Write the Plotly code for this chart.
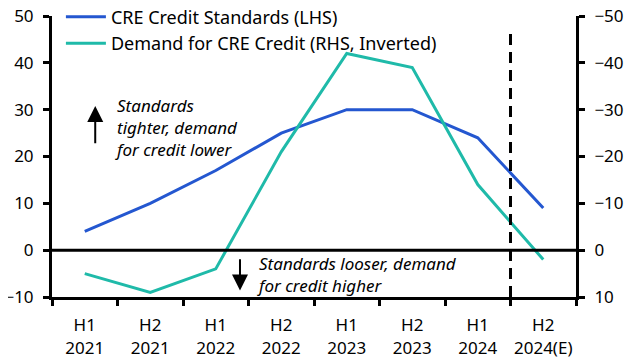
import plotly.graph_objects as go

periods = ["H1<br>2021", "H2<br>2021", "H1<br>2022", "H2<br>2022",
           "H1<br>2023", "H2<br>2023", "H1<br>2024", "H2<br>2024(E)"]
standards = [4, 10, 17, 25, 30, 30, 24, 9]          # LHS
demand = [5, 9, 4, -21, -42, -39, -14, 2]            # RHS, inverted

BLUE = "#2457d0"
TEAL = "#1fbaa9"
FONT = "Noto Sans"

fig = go.Figure()
fig.add_trace(go.Scatter(x=periods, y=standards, mode="lines", name="CRE Credit Standards (LHS)",
                         line=dict(color=BLUE, width=3), yaxis="y"))
fig.add_trace(go.Scatter(x=periods, y=demand, mode="lines", name="Demand for CRE Credit (RHS, Inverted)",
                         line=dict(color=TEAL, width=3), yaxis="y2"))

axis_common = dict(showgrid=False, showline=True, linecolor="black", linewidth=3,
                   ticks="outside", ticklen=6, tickwidth=3, tickcolor="black",
                   zeroline=False, automargin=False, ticklabeloverflow="allow")

# page has an 8px body margin, so the figure is 8px smaller than the window
fig.update_layout(
    width=624, height=356,
    margin=dict(l=44, r=56, t=8, b=67, autoexpand=False),
    plot_bgcolor="white", paper_bgcolor="white",
    font=dict(family=FONT, size=17, color="black"),
    showlegend=True,
    legend=dict(x=0.017, y=0.95, xanchor="left", yanchor="middle", bgcolor="rgba(0,0,0,0)",
                font=dict(size=18), tracegroupgap=0, itemwidth=40),
    xaxis=dict(type="category", range=[-0.5, 7.5], tickson="boundaries", tickangle=0,
               tickfont=dict(size=17), ticklabelstandoff=11, **axis_common),
    yaxis=dict(range=[-10, 50], dtick=10, tickfont=dict(size=17), ticklabelstandoff=6, **axis_common),
    yaxis2=dict(range=[10, -50], dtick=10, overlaying="y", side="right",
                tickfont=dict(size=17), ticklabelstandoff=6, **axis_common),
)

# zero line
fig.add_shape(type="line", xref="paper", x0=0, x1=1, yref="y", y0=0, y1=0,
              line=dict(color="black", width=3))
# dashed forecast divider
fig.add_shape(type="line", xref="x", x0=6.5, x1=6.5, yref="y", y0=-10, y1=47,
              line=dict(color="black", width=3, dash="11px,7px"))

# annotations
fig.add_annotation(x=0.16, y=30.8, xref="x", yref="y", ax=0.16, ay=22.5, axref="x", ayref="y",
                   showarrow=True, arrowhead=2, arrowsize=1.6, arrowwidth=2, arrowcolor="black", text="")
fig.add_annotation(x=0.43, y=26.3, xref="x", yref="y", xanchor="left", yanchor="middle", align="left",
                   showarrow=False, text="<i>Standards<br>tighter, demand<br>for credit lower</i>",
                   font=dict(size=17))
fig.add_annotation(x=2.37, y=-8.6, xref="x", yref="y", ax=2.37, ay=-1.6, axref="x", ayref="y",
                   showarrow=True, arrowhead=2, arrowsize=1.6, arrowwidth=2, arrowcolor="black", text="")
fig.add_annotation(x=2.6, y=-5.3, xref="x", yref="y", xanchor="left", yanchor="middle", align="left",
                   showarrow=False, text="<i>Standards looser, demand<br>for credit higher</i>",
                   font=dict(size=17))

fig.write_html("out.html")
